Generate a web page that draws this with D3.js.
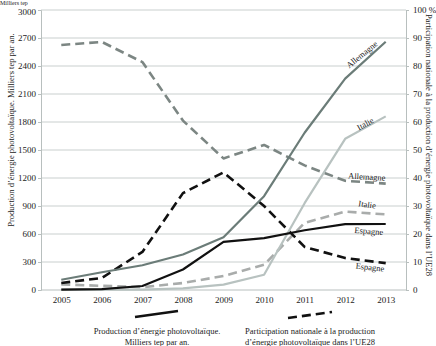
<!DOCTYPE html>
<html><head><meta charset="utf-8">
<script src="https://cdn.jsdelivr.net/npm/d3@7"></script>
<style>body{margin:0;background:#fff}svg{display:block}text{font-family:"Liberation Serif","DejaVu Serif",serif;fill:#222}</style>
</head><body>
<script>
const years = [2005,2006,2007,2008,2009,2010,2011,2012,2013];
const prodAllemagne = [110,190,265,380,565,1005,1685,2265,2660];
const prodItalie = [3,3,4,17,58,163,930,1620,1860];
const prodEspagne = [4,10,43,220,515,555,640,705,707];
const partAllemagne = [87.5,88.6,81.4,60.5,47,51.8,44.5,39,38];
const partItalie = [2,1.5,1,2.5,5,9,24,28,27];
const partEspagne = [2.5,4.3,13.6,34.6,42,30,15.4,11.4,9.6];
const leftTicks = [0,300,600,900,1200,1500,1800,2100,2400,2700,3000];
const rightTicks = [0,10,20,30,40,50,60,70,80,90,100];

const W=436,H=346;
const svg=d3.select("body").append("svg").attr("width",W).attr("height",H);
const L=41,R=406,T=10,B=290;
const x=d3.scalePoint().domain(years).range([L,R]).padding(0.5);
const yL=d3.scaleLinear().domain([0,3000]).range([B,T]);
const yR=d3.scaleLinear().domain([0,100]).range([B,T]);

svg.append("g").selectAll("line").data(leftTicks.slice(1)).join("line")
 .attr("x1",L).attr("x2",R).attr("y1",d=>yL(d)).attr("y2",d=>yL(d))
 .attr("stroke","#c9cfce").attr("stroke-width",1);

const gl=svg.append("g").attr("transform",`translate(${L},0)`)
 .call(d3.axisLeft(yL).tickValues(leftTicks).tickSize(3).tickPadding(2).tickFormat(d3.format("d")));
const gr=svg.append("g").attr("transform",`translate(${R},0)`)
 .call(d3.axisRight(yR).tickValues(rightTicks).tickSize(3).tickPadding(4).tickFormat(d=>d===100?"100 %":d));
const gx=svg.append("g").attr("transform",`translate(0,${B})`)
 .call(d3.axisBottom(x).tickSize(0).tickPadding(7).tickFormat(d3.format("d")));
[gl,gr,gx].forEach(g=>{g.selectAll("path").attr("stroke","#b8bfbe");g.selectAll("line").attr("stroke","#b8bfbe");
 g.selectAll("text").attr("font-size",9).attr("fill","#333").attr("font-family","Liberation Serif");});
gx.select("path").attr("d",`M${L},0H${R}`);
gl.selectAll(".tick").filter(d=>d===3000).select("text").attr("dy","0.5em");

const lineL=d3.line().x((d,i)=>x(years[i])).y(d=>yL(d));
const lineR=d3.line().x((d,i)=>x(years[i])).y(d=>yR(d));
function draw(gen,data,color,w,dash){
 svg.append("path").attr("d",gen(data)).attr("fill","none").attr("stroke",color)
  .attr("stroke-width",w).attr("stroke-dasharray",dash||null).attr("stroke-linejoin","round");
}
draw(lineR,partItalie,"#a9acab",2.6,"9,5");
draw(lineR,partAllemagne,"#7c8683",2.6,"9,5");
draw(lineR,partEspagne,"#111",2.6,"9,5");
draw(lineL,prodItalie,"#b8c2c0",2.2);
draw(lineL,prodAllemagne,"#6b7c78",2.2);
draw(lineL,prodEspagne,"#111",2.2);

function lab(t,px,py,rot){
 svg.append("text").attr("transform",`translate(${px},${py}) rotate(${rot})`).attr("text-anchor","middle")
  .attr("font-size",8.5).attr("fill","#333").text(t);
}
const xe=x(2013);
lab("Allemagne",xe-22,yL(prodAllemagne[8])+15,-39);
lab("Italie",xe-19,yL(prodItalie[8])+10,-29);
lab("Allemagne",xe-19,yR(partAllemagne[8])-4,3);
lab("Italie",xe-19,yR(partItalie[8])-7,8);
lab("Espagne",xe-17,yL(prodEspagne[8])+10,4);
lab("Espagne",xe-16,yR(partEspagne[8])+7,6);

svg.append("text").attr("transform","translate(14,130) rotate(-90)").attr("text-anchor","middle")
 .attr("font-size",8.5).text("Production d’énergie photovoltaïque. Milliers tep par an.");
svg.append("text").attr("x",0).attr("y",5.4).attr("font-size",6).text("Milliers tep");
svg.append("text").attr("transform","translate(426,145) rotate(90)").attr("text-anchor","middle")
 .attr("font-size",8.5).text("Participation nationale à la production d’énergie photovoltaïque dans l’UE28");

svg.append("line").attr("x1",135).attr("y1",317).attr("x2",178).attr("y2",311).attr("stroke","#111").attr("stroke-width",2.6);
svg.append("line").attr("x1",288).attr("y1",318).attr("x2",332).attr("y2",312).attr("stroke","#111").attr("stroke-width",2.6).attr("stroke-dasharray","9,5");
[["Production d’énergie photovoltaïque.",157,334],["Milliers tep par an.",157,345],
 ["Participation nationale à la production",310,334],["d’énergie photovoltaïque dans l’UE28",310,345]]
 .forEach(([t,px,py])=>svg.append("text").attr("x",px).attr("y",py).attr("text-anchor","middle").attr("font-size",8.5).text(t));
</script>
</body></html>
